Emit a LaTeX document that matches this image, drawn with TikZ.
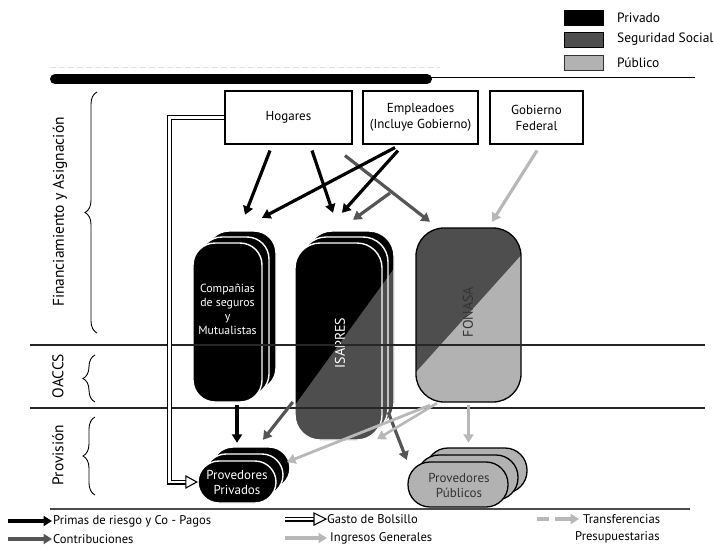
\documentclass[tikz,border=0pt]{standalone}
\usepackage{fontspec}
\setmainfont{PT Sans}
\usetikzlibrary{arrows.meta,calc,decorations.pathreplacing}
\definecolor{drk}{RGB}{78,78,78}
\definecolor{drkarr}{RGB}{85,85,85}
\definecolor{lgt}{RGB}{184,184,184}
\definecolor{lgtfill}{RGB}{178,178,178}
\newcommand{\isacard}[4]{%
  \fill[black, rounded corners=25pt] (#1,#2) rectangle (#3,#4);
  \begin{scope}
    \clip[rounded corners=25pt] (#1,#2) rectangle (#3,#4);
    \fill[drk] (195,543) -- (493,132) -- (493,543) -- cycle;
  \end{scope}
  \draw[white, line width=1.4pt, rounded corners=25pt] (#1,#2) rectangle (#3,#4);}
\newcommand{\compcard}[4]{%
  \filldraw[fill=black, draw=white, line width=1.4pt, rounded corners=22pt] (#1,#2) rectangle (#3,#4);}
\newcommand{\privcard}[4]{%
  \filldraw[fill=black, draw=white, line width=1.4pt, rounded corners=21pt] (#1,#2) rectangle (#3,#4);}
\newcommand{\pubcard}[4]{%
  \filldraw[fill=lgtfill, draw=black, line width=1.3pt, rounded corners=22pt] (#1,#2) rectangle (#3,#4);}
\begin{document}
\begin{tikzpicture}[x=1pt,y=-1pt,
  arr/.style={line width=3.2pt, -{Triangle[length=8.5pt,width=10pt]}},
  blk/.style={arr, black},
  dkarr/.style={arr, drkarr},
  ltarr/.style={arr, lgt},
  boxn/.style={draw, line width=1.1pt, fill=white, inner sep=0pt, minimum height=53pt, align=center, font=\fontsize{13}{16}\selectfont},
  gasto/.style={draw=black, double=white, double distance=2.8pt, line width=1.1pt},
  lbl/.style={font=\fontsize{12.6}{14}\selectfont, anchor=west, inner sep=0pt},
  toplbl/.style={font=\fontsize{13.5}{15}\selectfont, anchor=west, inner sep=0pt},
  brc/.style={decorate, decoration={brace, amplitude=12pt}, line width=0.9pt},
  side/.style={rotate=90, font=\fontsize{15.5}{17}\selectfont},
  frame/.style={inner sep=0pt},
  sepline/.style={line width=1.1pt, black!85}
]
\useasboundingbox (0,0) rectangle (714,547);

% top legend
\node[frame, draw=black, fill=black, minimum width=39pt, minimum height=15pt] (lg1) at (583.5,17.5) {};
\node[frame, draw=black, line width=0.9pt, fill=drk, minimum width=39pt, minimum height=15pt] (lg2) at (583.5,39.5) {};
\node[frame, draw=black!80, line width=0.9pt, fill=lgtfill, minimum width=39pt, minimum height=15pt] (lg3) at (583.5,62.5) {};
\node[toplbl] (lt1) at (617,17.5) {Privado};
\node[toplbl] (lt2) at (617,39.5) {Seguridad Social};
\node[toplbl] (lt3) at (617,62.5) {Público};

% top bars
\draw[black!12, line width=0.6pt, dash pattern=on 6pt off 3pt] (50,67) -- (440,67);
\draw[line width=10pt, line cap=round] (55,79) -- (427,79);
\draw[line width=0.9pt] (430,77) -- (695,77);

% top boxes
\node[boxn, minimum width=127pt] (hog) at (288.5,117.5) {Hogares};
\node[boxn, minimum width=115pt] (emp) at (420.5,117.5) {Empleadoes\\(Incluye Gobierno)};
\node[boxn, minimum width=93pt] (gob) at (536.5,117.5) {Gobierno\\Federal};

% Companias stack
\compcard{207}{231}{276}{390}
\compcard{200}{237}{269}{396}
\compcard{193}{243}{262}{402}
\node[frame, minimum width=69pt, minimum height=159pt] (comp) at (227.5,322.5) {};
\node[text=white, align=center, font=\fontsize{11.8}{14}\selectfont] (comptxt) at (227.5,309) {Compañias\\de seguros\\y\\Mutualistas};

% ISAPRES stack
\isacard{307}{231}{394}{428}
\isacard{301}{237}{388}{434}
\isacard{295}{243}{382}{440}
\node[frame, minimum width=87pt, minimum height=197pt] (isa) at (338.5,341.5) {};
\node[side, text=white, font=\fontsize{14}{16}\selectfont] (isatxt) at (340,343) {ISAPRES};

% FONASA
\fill[lgtfill, rounded corners=28pt] (416,228) rectangle (521,402);
\begin{scope}
  \clip[rounded corners=28pt] (416,228) rectangle (521,402);
  \fill[drk] (300,501) -- (620,145) -- (620,100) -- (300,100) -- cycle;
\end{scope}
\draw[black, line width=1.3pt, rounded corners=28pt] (416,228) rectangle (521,402);
\node[frame, minimum width=105pt, minimum height=174pt] (fon) at (468.5,315) {};
\node[side, text=black!80, font=\fontsize{14}{16}\selectfont] (fontxt) at (468,312) {FONASA};

% Provedores Privados
\privcard{212}{447}{290}{489}
\privcard{205}{454}{283}{496}
\privcard{198}{461}{276}{503}
\node[frame, minimum width=78pt, minimum height=42pt] (ppriv) at (237,482) {};
\node[text=white, align=center, font=\fontsize{13}{15}\selectfont] (pprivtxt) at (237,482) {Provedores\\Privados};

% Provedores Publicos
\pubcard{426}{448}{527}{493}
\pubcard{417}{455}{518}{500}
\pubcard{408}{462}{508}{507}
\node[frame, minimum width=100pt, minimum height=45pt] (ppub) at (458,484.5) {};
\node[text=black!80, align=center, font=\fontsize{13}{15}\selectfont] (ppubtxt) at (459,485) {Provedores\\Públicos};

% separator lines
\draw[sepline] (30,345) -- (705,345);
\draw[sepline] (30,408) -- (705,408);
\draw[line width=1.4pt, black!70] (50,509) -- (690,509);

% braces and side labels
\draw[brc] (97,333) -- (97,92);
\draw[brc] (95,402) -- (95,355);
\draw[brc] (95,495) -- (95,417);
\node[side] (sfin) at (60,212) {Financiamiento y Asignación};
\node[side] (soac) at (58,376) {OACCS};
\node[side] (spro) at (58,455) {Provisión};

% arrows: financing
\coordinate (dkstart) at (390,193);
\draw[dkarr] ([xshift=56.5pt,yshift=-11pt]hog.south) -- ([xshift=-38.5pt,yshift=6pt]fon.north);
\draw[dkarr] (dkstart) -- ([xshift=14.5pt,yshift=23pt]isa.north);
\draw[blk] ([xshift=-18.5pt,yshift=-6pt]hog.south) -- ([xshift=17.5pt,yshift=28pt]comp.north);
\draw[blk] ([xshift=23.5pt,yshift=-6pt]hog.south) -- ([xshift=-5.5pt,yshift=30pt]isa.north);
\draw[blk] ([xshift=-25.5pt,yshift=-3pt]emp.south) -- ([xshift=34.5pt,yshift=25pt]comp.north);
\draw[blk] ([xshift=-22.5pt,yshift=-6pt]emp.south) -- ([xshift=3.5pt,yshift=30pt]isa.north);
\draw[ltarr] ([xshift=0.5pt,yshift=-6pt]gob.south) -- ([xshift=23.5pt,yshift=6pt]fon.north);

% arrows: provision
\draw[blk] ([xshift=9.5pt,yshift=-3pt]comp.south) -- ([yshift=18pt]ppriv.north);
\draw[dkarr] ([xshift=-2pt,yshift=-60.5pt]isa.west) -- ([xshift=26pt,yshift=21pt]ppriv.north);
\draw[dkarr] ([xshift=6pt,yshift=28pt]isa.south east) -- ([xshift=-1pt,yshift=24.5pt]ppub.west);
\draw[ltarr, line width=2.6pt] ([xshift=-31.5pt,yshift=-1pt]fon.south) -- ([xshift=38.5pt,yshift=1pt]isa.south);
\draw[ltarr, line width=2.8pt] ([xshift=-38.5pt,yshift=-3pt]fon.south) -- ([xshift=50pt,yshift=20pt]ppriv.center);
\draw[ltarr] ([yshift=-3pt]fon.south) -- ([xshift=10.5pt,yshift=19pt]ppub.north);

% gasto de bolsillo
\draw[gasto] (hog.west) -| ([xshift=-28pt]ppriv.west) -- ([xshift=-10pt]ppriv.west);
\draw[fill=white, line width=1.1pt] ([xshift=-12pt,yshift=6pt]ppriv.west) -- ([xshift=-1pt]ppriv.west) -- ([xshift=-12pt,yshift=-6pt]ppriv.west) -- cycle;

% bottom legend
\node[lbl] (l1) at (53,521) {Primas de riesgo y Co - Pagos};
\node[lbl] (l2) at (53,539) {Contribuciones};
\node[lbl] (l3) at (327,519) {Gasto de Bolsillo};
\node[lbl] (l4) at (330,538) {Ingresos Generales};
\node[lbl] (l5) at (583,519) {Transferencias};
\node[lbl] (l6) at (575,537) {Presupuestarias};
\draw[blk, line width=4pt] ([xshift=-45pt]l1.west) -- ([xshift=-1pt]l1.west);
\draw[dkarr, line width=4pt] ([xshift=-45pt]l2.west) -- ([xshift=-1pt]l2.west);
\draw[gasto] ([xshift=-42pt]l3.west) -- ([xshift=-11pt]l3.west);
\draw[fill=white, line width=1.1pt] ([xshift=-13pt,yshift=6pt]l3.west) -- ([xshift=-1pt]l3.west) -- ([xshift=-13pt,yshift=-6pt]l3.west) -- cycle;
\draw[ltarr, line width=4pt] ([xshift=-45pt]l4.west) -- ([xshift=-3pt]l4.west);
\draw[lgt, line width=4pt] ([xshift=-46pt]l5.west) -- ([xshift=-34pt]l5.west);
\draw[ltarr, line width=4pt] ([xshift=-28pt]l5.west) -- ([xshift=-4pt]l5.west);
\end{tikzpicture}
\end{document}
